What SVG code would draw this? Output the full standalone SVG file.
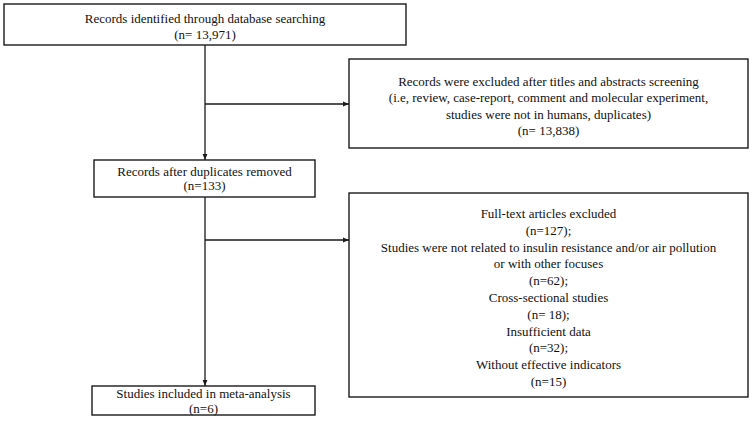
<svg xmlns="http://www.w3.org/2000/svg" width="753" height="428" viewBox="0 0 753 428">
<defs>
<marker id="ah" viewBox="0 0 10 10" refX="10" refY="5" markerWidth="6" markerHeight="6" markerUnits="userSpaceOnUse" orient="auto">
<path d="M0,1 L10,5 L0,9 Z" fill="#1a1a1a"/>
</marker>
</defs>
<style>
.box{fill:#fff;stroke:#1a1a1a;stroke-width:1.4}
.t{font-family:"Liberation Serif","Times New Roman",serif;font-size:13px;fill:#111;text-anchor:middle}
.c{fill:none;stroke:#1a1a1a;stroke-width:1.3}
</style>
<rect width="753" height="428" fill="#fff"/>
<g id="connectors">
<line class="c" x1="205" y1="45" x2="205" y2="160" marker-end="url(#ah)"/>
<line class="c" x1="205" y1="104" x2="349" y2="104" marker-end="url(#ah)"/>
<line class="c" x1="205" y1="197" x2="205" y2="386" marker-end="url(#ah)"/>
<line class="c" x1="205" y1="240" x2="349" y2="240" marker-end="url(#ah)"/>
</g>
<g id="identified">
<rect class="box" x="4" y="4" width="402" height="41"/>
<text class="t" x="205" y="23">Records identified through database searching</text>
<text class="t" x="205" y="38.5">(n= 13,971)</text>
</g>
<g id="excluded1">
<rect class="box" x="349" y="59" width="399" height="89"/>
<text class="t" x="548.5" y="85.5">Records were excluded after titles and abstracts screening</text>
<text class="t" x="548.5" y="102">(i.e, review, case-report, comment and molecular experiment,</text>
<text class="t" x="548.5" y="118.5">studies were not in humans, duplicates)</text>
<text class="t" x="548.5" y="135">(n= 13,838)</text>
</g>
<g id="afterdup">
<rect class="box" x="94" y="160" width="221" height="37"/>
<text class="t" x="204.5" y="175.5">Records after duplicates removed</text>
<text class="t" x="204.5" y="190">(n=133)</text>
</g>
<g id="excluded2">
<rect class="box" x="349" y="193" width="399" height="204"/>
<text class="t" x="548.5" y="218">Full-text articles excluded</text>
<text class="t" x="548.5" y="234.8">(n=127);</text>
<text class="t" x="548.5" y="251.6">Studies were not related to insulin resistance and/or air pollution</text>
<text class="t" x="548.5" y="268.4">or with other focuses</text>
<text class="t" x="548.5" y="285.2">(n=62);</text>
<text class="t" x="548.5" y="302">Cross-sectional studies</text>
<text class="t" x="548.5" y="318.8">(n= 18);</text>
<text class="t" x="548.5" y="335.6">Insufficient data</text>
<text class="t" x="548.5" y="352.4">(n=32);</text>
<text class="t" x="548.5" y="369.2">Without effective indicators</text>
<text class="t" x="548.5" y="386">(n=15)</text>
</g>
<g id="included">
<rect class="box" x="92" y="386" width="223" height="29"/>
<text class="t" x="203.5" y="398">Studies included in meta-analysis</text>
<text class="t" x="203.5" y="412.5">(n=6)</text>
</g>
</svg>
